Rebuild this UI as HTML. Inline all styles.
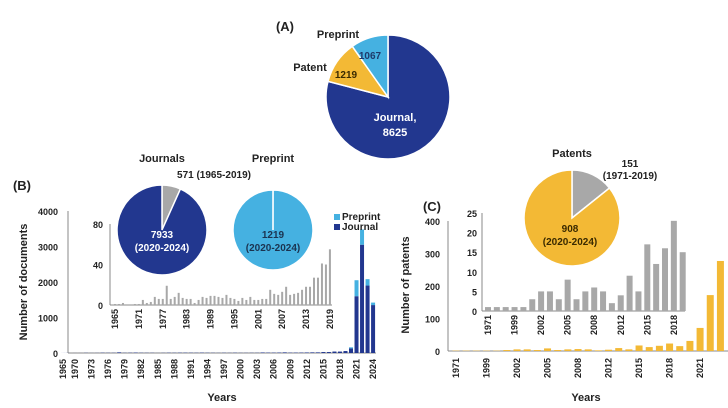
<!DOCTYPE html>
<html><head><meta charset="utf-8"><style>
body{margin:0;background:#fff;}
svg{display:block;font-family:"Liberation Sans",Arial,sans-serif;font-weight:bold;}
</style></head><body>
<svg id="fig" width="728" height="408" viewBox="0 0 728 408"></svg>
<script>
// ---- Data ----
const pieALabels=["Journal","Patent","Preprint"];
const pieAValues=[8625,1219,1067];
const bYears=[];for(let y=1965;y<=2024;y++)bYears.push(y);
const bTickYears=[1965,1970,1973,1976,1979,1982,1985,1988,1991,1994,1997,2000,2003,2006,2009,2012,2015,2018,2021,2024];
const bInsetValues=[1,1,2,0,0,1,1,5,2,3,8,6,6,19,6,8,12,7,6,6,2,5,8,7,9,9,8,7,10,7,6,4,7,5,8,5,5,6,6,15,11,10,13,18,10,11,12,15,18,18,27,27,41,40,55];
const bJournal2020on=[130,1600,3050,1900,1350];
const bPreprint2020on=[30,450,430,180,70];
const bTicks=[0,1000,2000,3000,4000];
const bInsetTicks=[0,40,80];
const journalsPie=[571,7933];
const preprintPie=[0.5,1219];
const cCats=["1971","1990","1997","1999","2000","2001","2002","2003","2004","2005","2006","2007","2008","2009","2011","2012","2013","2014","2015","2016","2017","2018","2019","2020","2021","2022","2023"];
const cInsetValues=[1,1,1,1,1,3,5,5,3,8,3,5,6,5,2,4,9,5,17,12,16,23,15];
const cRecent=[31,71,172,277];
const cTicks=[0,100,200,300,400];
const cInsetTicks=[0,5,10,15,20,25];
const patentPie=[151,908];

const NS="http://www.w3.org/2000/svg";
const svg=document.getElementById('fig');
function el(tag,attrs,parent,text){const e=document.createElementNS(NS,tag);for(const k in attrs)e.setAttribute(k,attrs[k]);if(text!==undefined)e.textContent=text;(parent||svg).appendChild(e);return e;}
const NAVY="#22378f",SKY="#45b1e1",GOLD="#f3b935",GRAY="#a8a8a8";

function pie(cx,cy,r,vals,cols,name){
  const g=el('g',{});
  const tot=vals.reduce((a,b)=>a+b,0);let a0=-Math.PI/2;
  vals.forEach((v,i)=>{const a1=a0+v/tot*2*Math.PI;const large=(a1-a0)>Math.PI?1:0;
    const p=el('path',{d:`M${cx},${cy}L${cx+r*Math.cos(a0)},${cy+r*Math.sin(a0)}A${r},${r} 0 ${large} 1 ${cx+r*Math.cos(a1)},${cy+r*Math.sin(a1)}Z`,fill:cols[i],stroke:'#fff','stroke-width':1.5},g);
    a0=a1;});
  return g;
}
function txt(x,y,s,size,opts){const t=el('text',Object.assign({x:x,y:y,'font-size':size,fill:'#222','text-anchor':'middle'},opts||{}),svg,s);return t;}
function named(e,n){return e;}

// ---- Panel A ----
named(txt(285,31,"(A)",13),'panel-a-label');
pie(388,97,62,pieAValues,[NAVY,GOLD,SKY],'pie-a');
named(txt(338,38,"Preprint",11),'pie-a-preprint-label');
named(txt(310,71,"Patent",11),'pie-a-patent-label');
named(txt(370,59,String(pieAValues[2]),10,{fill:'#1e3a6a'}),'pie-a-preprint-value');
named(txt(346,78,String(pieAValues[1]),10,{fill:'#3a2a00'}),'pie-a-patent-value');
named(txt(395,121,pieALabels[0]+",",11,{fill:'#fff'}),'pie-a-journal-label');
named(txt(395,136,String(pieAValues[0]),11,{fill:'#fff'}),'pie-a-journal-value');

// ---- Panel B main ----
named(txt(22,190,"(B)",13),'panel-b-label');
const bx=y=>y<1970?63+(y-1965)*2.4:75+(y-1970)*5.52, by=v=>353-v*0.0355;
bTicks.forEach(t=>{named(txt(58,by(t)+4,String(t),9,{'text-anchor':'end'}),'b-y-tick');});
named(el('line',{x1:68,y1:211,x2:68,y2:353,stroke:'#888'}),'b-y-axis');
named(el('line',{x1:68,y1:353,x2:376,y2:353,stroke:'#888'}),'b-x-axis');
bTickYears.forEach(y=>{named(txt(0,0,String(y),9,{'text-anchor':'end',transform:`translate(${bx(y)+3},${359}) rotate(-90)`}),'b-x-tick');});
bYears.forEach((y)=>{
  let j=0,p=0;
  if(y>=2020){j=bJournal2020on[y-2020];p=bPreprint2020on[y-2020];}else{j=bInsetValues[y-1965];}
  if(j>0){const r=el('rect',{x:bx(y)-2,y:by(j),width:4,height:353-by(j),fill:NAVY});}
  if(p>0){const r=el('rect',{x:bx(y)-2,y:by(j+p),width:4,height:by(j)-by(j+p),fill:SKY});}
});
named(txt(222,401,"Years",11),'b-x-title');
named(txt(0,0,"Number of documents",11,{transform:'translate(27,282) rotate(-90)'}),'b-y-title');
named(el('rect',{x:334,y:214,width:6,height:6,fill:SKY}),'legend-preprint-swatch');
named(txt(342,220,"Preprint",10,{'text-anchor':'start'}),'legend-preprint');
named(el('rect',{x:334,y:224,width:6,height:6,fill:NAVY}),'legend-journal-swatch');
named(txt(342,230,"Journal",10,{'text-anchor':'start'}),'legend-journal');

// ---- Panel B inset ----
const ix=y=>115+(y-1965)*3.98, iy=v=>305-v*1.0125;
named(el('line',{x1:110,y1:224,x2:110,y2:305,stroke:'#888'}),'b-inset-y-axis');
named(el('line',{x1:110,y1:305,x2:332,y2:305,stroke:'#888'}),'b-inset-x-axis');
bInsetTicks.forEach(t=>named(txt(103,iy(t)+4,String(t),9,{'text-anchor':'end'}),'b-inset-y-tick'));
bInsetValues.forEach((v,i)=>{const y=1965+i;
  const r=el('rect',{x:ix(y)-1,y:iy(v),width:2,height:305-iy(v),fill:GRAY});
  if(i%6===0){named(txt(0,0,String(y),9,{'text-anchor':'end',transform:`translate(${ix(y)+3},309) rotate(-90)`}),'b-inset-x-tick');}
});
pie(162,230,45,journalsPie,[GRAY,NAVY],'journals-pie');
named(txt(162,162,"Journals",11),'journals-pie-title');
named(txt(214,178,"571 (1965-2019)",10),'journals-pie-old');
named(txt(162,238,"7933",10,{fill:'#fff'}),'journals-pie-new-value');
named(txt(162,251,"(2020-2024)",10,{fill:'#fff'}),'journals-pie-new-range');
pie(273,230,40,preprintPie,[SKY,SKY],'preprint-pie');
named(el('line',{x1:273,y1:190,x2:273,y2:230,stroke:'#fff','stroke-width':1.2}),'preprint-pie-divider');
named(txt(273,162,"Preprint",11),'preprint-pie-title');
named(txt(273,238,"1219",10,{fill:'#1b3350'}),'preprint-pie-value');
named(txt(273,251,"(2020-2024)",10,{fill:'#1b3350'}),'preprint-pie-range');

// ---- Panel C main ----
named(txt(432,211,"(C)",13),'panel-c-label');
const cx=i=>456+i*10.17, cy=v=>351-v*0.325;
named(el('line',{x1:448,y1:221,x2:448,y2:351,stroke:'#888'}),'c-y-axis');
named(el('line',{x1:448,y1:351,x2:728,y2:351,stroke:'#888'}),'c-x-axis');
cTicks.forEach(t=>named(txt(440,cy(t)+4,String(t),9,{'text-anchor':'end'}),'c-y-tick'));
const cAll=cInsetValues.concat(cRecent);
cAll.forEach((v,i)=>{const r=el('rect',{x:cx(i)-3.5,y:cy(v),width:7,height:351-cy(v),fill:GOLD});
  if(i%3===0&&i<=24){named(txt(0,0,cCats[i],9,{'text-anchor':'end',transform:`translate(${cx(i)+3},358) rotate(-90)`}),'c-x-tick');}
});
named(txt(586,401,"Years",11),'c-x-title');
named(txt(0,0,"Number of patents",11,{transform:'translate(409,285) rotate(-90)'}),'c-y-title');

// ---- Panel C inset ----
const jx=i=>488+i*8.85, jy=v=>311-v*3.92;
named(el('line',{x1:482,y1:213,x2:482,y2:311,stroke:'#888'}),'c-inset-y-axis');
named(el('line',{x1:482,y1:311,x2:685,y2:311,stroke:'#888'}),'c-inset-x-axis');
cInsetTicks.forEach(t=>named(txt(477,jy(t)+4,String(t),9,{'text-anchor':'end'}),'c-inset-y-tick'));
cInsetValues.forEach((v,i)=>{const r=el('rect',{x:jx(i)-3,y:jy(v),width:6,height:311-jy(v),fill:GRAY});
  if(i%3===0){named(txt(0,0,cCats[i],9,{'text-anchor':'end',transform:`translate(${jx(i)+3},315) rotate(-90)`}),'c-inset-x-tick');}
});
pie(572,218,48,patentPie,[GRAY,GOLD],'patents-pie');
named(txt(572,157,"Patents",11),'patents-pie-title');
named(txt(630,167,"151",10),'patents-pie-old-value');
named(txt(630,179,"(1971-2019)",10),'patents-pie-old-range');
named(txt(570,232,"908",10,{fill:'#3a2a00'}),'patents-pie-new-value');
named(txt(570,245,"(2020-2024)",10,{fill:'#3a2a00'}),'patents-pie-new-range');
</script>
</body></html>
